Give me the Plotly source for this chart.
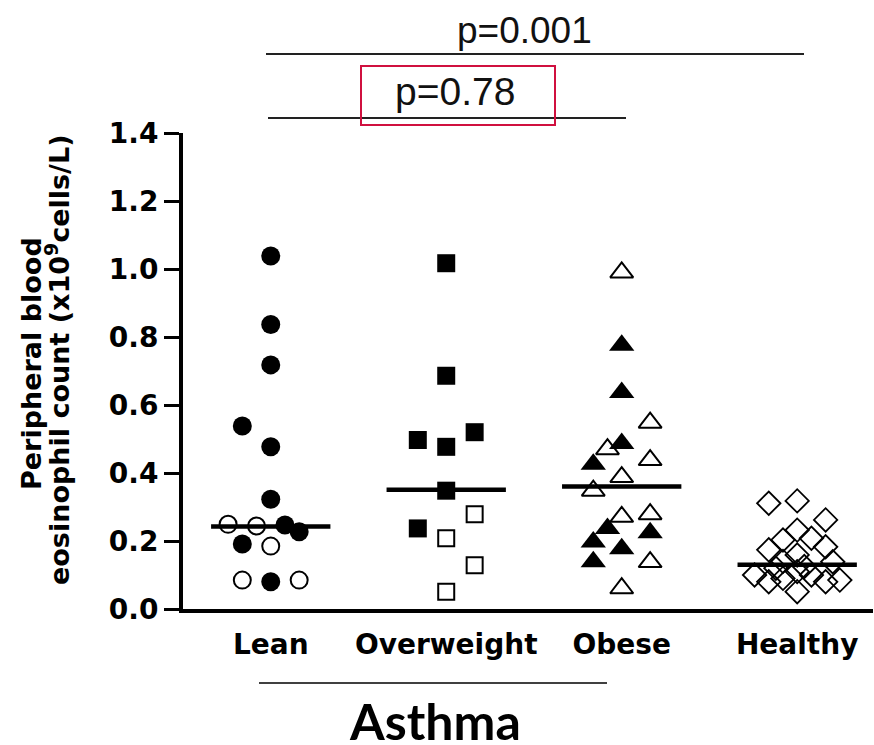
import plotly.graph_objects as go

# Group names on the x axis
categories = ["Lean", "Overweight", "Obese", "Healthy"]

# Eosinophil counts (x10^9 cells/L) per group; slot = horizontal scatter column
lean_filled_vals = [1.038, 0.837, 0.718, 0.538, 0.477, 0.323, 0.247, 0.227, 0.191, 0.080]
lean_filled_slot = [0, 0, 0, -2, 0, 0, 1, 2, -2, 0]
lean_open_vals = [0.249, 0.244, 0.185, 0.085, 0.085]
lean_open_slot = [-3, -1, 0, -2, 2]

over_filled_vals = [1.017, 0.686, 0.497, 0.477, 0.520, 0.348, 0.237]
over_filled_slot = [0, 0, -2, 0, 2, 0, -2]
over_open_vals = [0.279, 0.208, 0.129, 0.051]
over_open_slot = [2, 0, 2, 0]

obese_filled_vals = [0.776, 0.637, 0.487, 0.426, 0.237, 0.224, 0.197, 0.177, 0.139]
obese_filled_slot = [0, 0, 0, -2, -1, 2, -2, 0, -2]
obese_open_vals = [0.990, 0.548, 0.470, 0.438, 0.388, 0.348, 0.271, 0.279, 0.138, 0.061]
obese_open_slot = [0, 2, -1, 2, 0, -2, 0, 2, 2, 0]

healthy_vals = [0.311, 0.318, 0.262, 0.232, 0.203, 0.208, 0.174, 0.183, 0.159, 0.140,
                0.139, 0.100, 0.080, 0.090, 0.110, 0.125, 0.100, 0.080, 0.085, 0.051, 0.120]
healthy_slot = [-2, 0, 2, 0, -1, 1, -2, 2, 0, -1,
                2.5, -3, -2, -1, 0, 0.5, 1, 2, 3, 0, -1.5]

# Group medians
medians = [0.243, 0.351, 0.360, 0.130]

# Axis ticks
y_ticks = [0.0, 0.2, 0.4, 0.6, 0.8, 1.0, 1.2, 1.4]

# Layout geometry (pixels)
FIG_W, FIG_H = 874, 745
M_L, M_R, M_T, M_B = 183, 1, 133, 136
PLOT_W = FIG_W - M_L - M_R
PLOT_H = FIG_H - M_T - M_B
SLOT = 0.081      # width of one scatter column in x units
HALF_MED = 0.34   # half-length of a median bar in x units


def px_x(p):
    return (p - M_L) / PLOT_W


def px_y(p):
    return (FIG_H - M_B - p) / PLOT_H


def xs(group_idx, slots):
    return [group_idx + s * SLOT for s in slots]


fig = go.Figure()

BLACK = "#000000"


def add_points(gi, vals, slots, symbol, size, open_marker):
    marker = dict(symbol=symbol, size=size, color=BLACK)
    if open_marker:
        marker["line"] = dict(color=BLACK, width=2)
    else:
        marker["line"] = dict(width=0)
    fig.add_trace(go.Scatter(x=xs(gi, slots), y=vals, mode="markers",
                             marker=marker, showlegend=False, hoverinfo="y"))


add_points(0, lean_filled_vals, lean_filled_slot, "circle", 19, False)
add_points(0, lean_open_vals, lean_open_slot, "circle-open", 17, True)
add_points(1, over_filled_vals, over_filled_slot, "square", 18, False)
add_points(1, over_open_vals, over_open_slot, "square-open", 16, True)
add_points(2, obese_filled_vals, obese_filled_slot, "triangle-up", 22, False)
add_points(2, obese_open_vals, obese_open_slot, "triangle-up-open", 20, True)
healthy_marker = dict(symbol="diamond-open", size=18, color=BLACK, line=dict(color=BLACK, width=1.8))
fig.add_trace(go.Scatter(x=xs(3, healthy_slot), y=healthy_vals, mode="markers",
                         marker=healthy_marker, showlegend=False, hoverinfo="y"))

# Median bars
for gi, m in enumerate(medians):
    fig.add_trace(go.Scatter(x=[gi - HALF_MED, gi + HALF_MED], y=[m, m], mode="lines",
                             line=dict(color=BLACK, width=4.5), showlegend=False,
                             hoverinfo="skip"))

tick_font = dict(family="DejaVu Sans", size=28, color=BLACK, weight="bold")

fig.update_layout(
    width=FIG_W, height=FIG_H,
    margin=dict(l=M_L, r=M_R, t=M_T, b=M_B, autoexpand=False),
    paper_bgcolor="white", plot_bgcolor="white",
    xaxis=dict(
        range=[-0.5, 3.432], tickmode="array", tickvals=[0, 1, 2, 3],
        ticktext=categories, ticks="", showline=True, linewidth=4,
        linecolor=BLACK, showgrid=False, zeroline=False, tickfont=tick_font,
        ticklabelstandoff=7, fixedrange=True,
    ),
    yaxis=dict(
        range=[0, 1.4], tickmode="array", tickvals=y_ticks,
        tickformat=".1f", ticks="outside", ticklen=15, tickwidth=3,
        tickcolor=BLACK, showline=True, linewidth=4, linecolor=BLACK,
        showgrid=False, zeroline=False, tickfont=tick_font, fixedrange=True,
    ),
)

# Y-axis title, one annotation per line
title_font = dict(family="DejaVu Sans", size=27, color=BLACK, weight="bold")
fig.add_annotation(text="Peripheral blood", xref="paper", yref="paper",
                   x=px_x(31), y=px_y(364), xanchor="center", yanchor="middle",
                   textangle=-90, showarrow=False, font=title_font)
fig.add_annotation(text="eosinophil count (x10<sup>9</sup>cells/L)", xref="paper", yref="paper",
                   x=px_x(57), y=px_y(360), xanchor="center", yanchor="middle",
                   textangle=-90, showarrow=False, font=title_font)

# Group bracket under the asthma categories
fig.add_shape(type="line", xref="paper", yref="paper",
              x0=px_x(259), x1=px_x(607), y0=px_y(683), y1=px_y(683),
              line=dict(color=BLACK, width=1.5))
fig.add_annotation(text="Asthma", xref="paper", yref="paper",
                   x=px_x(435), y=px_y(721), xanchor="center", yanchor="middle",
                   showarrow=False, font=dict(family="Lato", size=50, color=BLACK, weight="bold"))

# Significance bars
fig.add_shape(type="line", xref="paper", yref="paper",
              x0=px_x(266), x1=px_x(804), y0=px_y(54), y1=px_y(54),
              line=dict(color="#222222", width=2))
fig.add_annotation(text="p=0.001", xref="paper", yref="paper",
                   x=px_x(524), y=px_y(30), xanchor="center", yanchor="middle",
                   showarrow=False, font=dict(family="Liberation Sans", size=37, color="#111111"))
fig.add_shape(type="line", xref="paper", yref="paper",
              x0=px_x(268), x1=px_x(626), y0=px_y(118), y1=px_y(118),
              line=dict(color="#222222", width=2))
fig.add_annotation(text="p=0.78", xref="paper", yref="paper",
                   x=px_x(455), y=px_y(91), xanchor="center", yanchor="middle",
                   showarrow=False, font=dict(family="Liberation Sans", size=39, color="#111111"))
# Highlight box around the p=0.78 label
fig.add_shape(type="rect", xref="paper", yref="paper",
              x0=px_x(361), x1=px_x(555), y0=px_y(125), y1=px_y(66),
              line=dict(color="#d0103f", width=2), fillcolor="rgba(0,0,0,0)")

fig.write_html("out.html")
